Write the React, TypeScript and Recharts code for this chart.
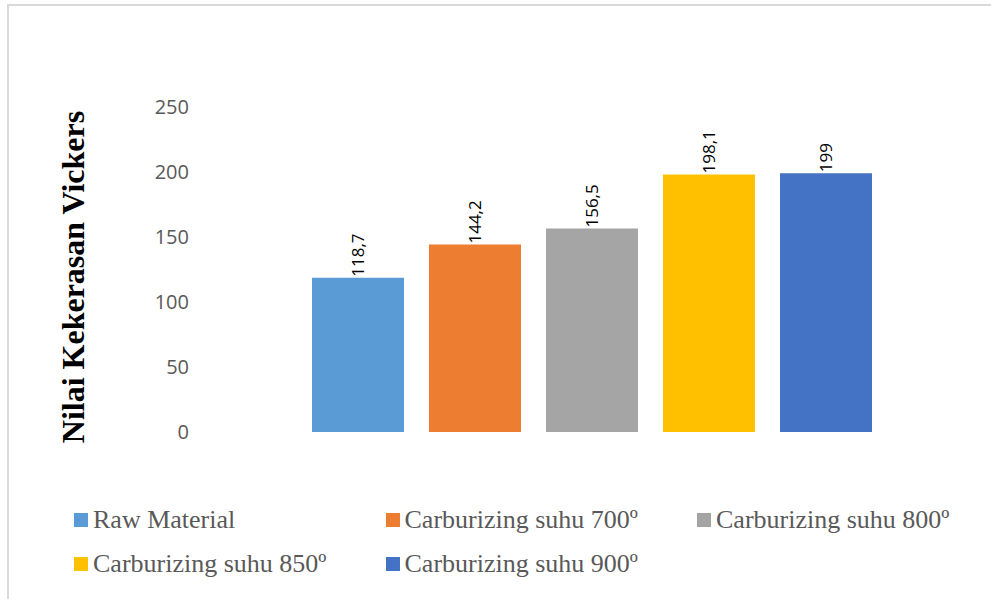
import { BarChart, Bar, XAxis, YAxis, LabelList } from 'recharts';

const SERIES_NAMES = [
    'Raw Material',
    'Carburizing suhu 700º',
    'Carburizing suhu 800º',
    'Carburizing suhu 850º',
    'Carburizing suhu 900º',
];
const SERIES_KEYS = ['raw', 's700', 's800', 's850', 's900'];
const HARDNESS = [118.7, 144.2, 156.5, 198.1, 199];
const COLORS = ['#5B9BD5', '#ED7D31', '#A5A5A5', '#FFC000', '#4472C4'];
const Y_TICKS = [0, 50, 100, 150, 200, 250];

const row: Record<string, number | string> = { name: 'Vickers' };
SERIES_KEYS.forEach((k, i) => {
    row[k] = HARDNESS[i];
});
const data = [row];

const fmt = (v: number) => String(v).replace('.', ',');

const ValueLabel = (props: any) => {
    const { x, y, width, value } = props;
    const cx = x + width / 2;
    const cy = y - 1;
    return (
        <text
            x={cx}
            y={cy}
            transform={`rotate(-90, ${cx}, ${cy})`}
            textAnchor="start"
            dominantBaseline="central"
            fontFamily="'Open Sans', sans-serif"
            fontSize={17}
            fill="#000"
        >
            {fmt(value)}
        </text>
    );
};

const AxisTitle = () => (
    <text
        x={73}
        y={277}
        transform="rotate(-90, 73, 277)"
        textAnchor="middle"
        dominantBaseline="central"
        fontFamily="'Liberation Serif', 'Times New Roman', serif"
        fontWeight="bold"
        fontSize={32}
        fill="#000"
    >
        Nilai Kekerasan Vickers
    </text>
);

const LegendBlock = () => (
    <div
        style={{
            position: 'absolute',
            left: 74,
            top: 498,
            width: 940,
            display: 'flex',
            flexWrap: 'wrap',
            fontFamily: "'Liberation Serif', 'Times New Roman', serif",
            fontSize: 26,
            color: '#595959',
        }}
    >
        {SERIES_NAMES.map((name, i) => (
            <div key={name} style={{ width: 311.5, height: 44, display: 'flex', alignItems: 'center' }}>
                <span style={{ display: 'inline-block', width: 14, height: 14, background: COLORS[i], marginRight: 5 }} />
                <span style={{ lineHeight: '26px' }}>{name}</span>
            </div>
        ))}
    </div>
);

export default function App() {
    return (
        <div style={{ position: 'absolute', left: 0, top: 0, width: 991, height: 599, background: '#fff', overflow: 'hidden' }}>
            <div
                style={{
                    position: 'absolute',
                    left: 7,
                    top: 4,
                    width: 1000,
                    height: 620,
                    borderTop: '2px solid #d9d9d9',
                    borderLeft: '2px solid #d9d9d9',
                }}
            />
            <BarChart
                width={991}
                height={599}
                data={data}
                margin={{ top: 107, right: 8, bottom: 167, left: 140 }}
                barSize={92}
                barGap={25}
                style={{ position: 'absolute', left: 0, top: 0 }}
            >
                <XAxis dataKey="name" hide />
                <YAxis
                    width={60}
                    domain={[0, 250]}
                    ticks={Y_TICKS}
                    axisLine={false}
                    tickLine={false}
                    tickSize={0}
                    tickMargin={11}
                    tick={{ fill: '#595959', fontSize: 20, fontFamily: "'Open Sans', sans-serif" }}
                    label={<AxisTitle />}
                />
                {SERIES_KEYS.map((k, i) => (
                    <Bar key={k} dataKey={k} name={SERIES_NAMES[i]} fill={COLORS[i]} isAnimationActive={false}>
                        <LabelList dataKey={k} content={<ValueLabel />} />
                    </Bar>
                ))}
            </BarChart>
            <LegendBlock />
        </div>
    );
}
